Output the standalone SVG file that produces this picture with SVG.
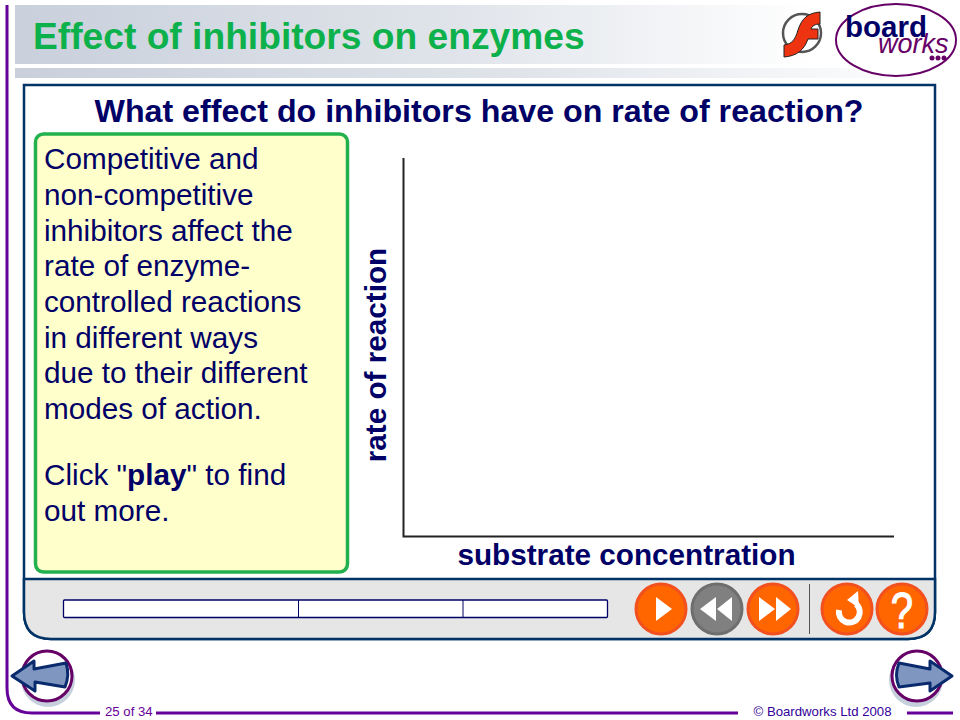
<svg xmlns="http://www.w3.org/2000/svg" width="960" height="720" viewBox="0 0 960 720">
<style>
text{font-family:"Liberation Sans",Arial,sans-serif}
.body{font-size:29.7px;fill:#000066}
.ax{font-size:29.7px;font-weight:bold;fill:#000066}
.foot{font-size:13.2px}
.btn{fill:#ff6600;stroke:#f2501e;stroke-width:3}
.sym{fill:#fff}
.nav{fill:#7f97c0;stroke:#0a2a6e;stroke-width:3;stroke-linejoin:round}
.shadow{fill:#c5d0dc}
.ring{fill:#fff;stroke:#660066;stroke-width:3}
</style>
<defs>
<linearGradient id="hdr" x1="0" x2="1" y1="0" y2="0"><stop offset="0" stop-color="#c9d0dc"/><stop offset="0.55" stop-color="#e0e4ea"/><stop offset="1" stop-color="#ffffff"/></linearGradient>
</defs>
<rect width="960" height="720" fill="#fff"/>
<g id="frame">
<path d="M7 5V688Q7 713 32 713H100M156 713H738M907 713H953" fill="none" stroke="#660099" stroke-width="3"/>
</g>
<g id="header">
<rect x="15" y="5" width="800" height="59" fill="url(#hdr)"/>
<rect x="15" y="68" width="920" height="10" fill="url(#hdr)"/>
<text x="33" y="49" font-size="37.200" font-weight="bold" fill="#0db14b">Effect of inhibitors on enzymes</text>
</g>
<g id="flash-logo">
<circle cx="802" cy="33" r="19" fill="#fff" stroke="#555" stroke-width="2.500"/>
<path d="M784 57V45C792 44 795 40 798 30C802 18 808 13 820 12V24C815 24 812 26 811 29H818V39H808C804 50 797 56 784 57Z" fill="#ee3311" stroke="#222" stroke-width="1"/>
</g>
<g id="boardworks-logo">
<ellipse cx="896" cy="40" rx="60" ry="36" fill="#fff" stroke="#660066" stroke-width="2"/>
<text x="845" y="37" font-size="29.500" font-weight="bold" fill="#000066">board</text>
<text x="878" y="53" font-size="27" font-style="italic" fill="#660066">works</text>
<circle cx="932" cy="58" r="2.500" fill="#660066"/><circle cx="938" cy="58" r="2.500" fill="#660066"/><circle cx="944" cy="58" r="2.500" fill="#660066"/>
</g>
<g id="panel">
<path d="M24 85H935V612Q935 639 908 639H51Q24 639 24 612Z" fill="#fff" stroke="#003366" stroke-width="2.500"/>
<path d="M24 579H935V612Q935 639 908 639H51Q24 639 24 612Z" fill="#e6e6e6" stroke="#003366" stroke-width="2.500"/>
<text x="479" y="122" text-anchor="middle" font-size="32.200" font-weight="bold" fill="#000066">What effect do inhibitors have on rate of reaction?</text>
</g>
<g id="text-box">
<rect x="35.500" y="134" width="312" height="438" rx="8" fill="#ffffcc" stroke="#22b14c" stroke-width="3.500"/>
<text class="body" x="44" y="169">Competitive and</text>
<text class="body" x="44" y="205">non-competitive</text>
<text class="body" x="44" y="241">inhibitors affect the</text>
<text class="body" x="44" y="276">rate of enzyme-</text>
<text class="body" x="44" y="312">controlled reactions</text>
<text class="body" x="44" y="348">in different ways</text>
<text class="body" x="44" y="383">due to their different</text>
<text class="body" x="44" y="419">modes of action.</text>
<text class="body" x="44" y="485">Click "<tspan font-weight="bold">play</tspan>" to find</text>
<text class="body" x="44" y="521">out more.</text>
</g>
<g id="chart">
<path d="M403.500 158V536.500H894" fill="none" stroke="#222" stroke-width="2"/>
<text class="ax" transform="translate(386 355) rotate(-90)" text-anchor="middle">rate of reaction</text>
<text class="ax" x="626.500" y="565" text-anchor="middle">substrate concentration</text>
</g>
<g id="progress-bar">
<rect x="63.500" y="600" width="544" height="17.500" rx="1" fill="#fff" stroke="#000066" stroke-width="1.300"/>
<path d="M298.500 600V617.500M463 600V617.500" stroke="#000066" stroke-width="1"/>
</g>
<g id="btn-play"><circle class="btn" cx="661" cy="609" r="25"/><path class="sym" d="M656 597L672 609L656 621Z"/></g>
<g id="btn-back"><circle cx="717" cy="609" r="25" fill="#808080" stroke="#6e6e6e" stroke-width="3"/><path class="sym" d="M700 609L716 597V621ZM717 609L732 597V621Z"/></g>
<g id="btn-forward"><circle class="btn" cx="773" cy="609" r="25"/><path class="sym" d="M759 597L775 609L759 621ZM776 597L791 609L776 621Z"/></g>
<path d="M809.500 584V634" stroke="#555" stroke-width="1"/>
<g id="btn-replay"><circle class="btn" cx="847" cy="609" r="25"/><path d="M839 610A10.500 10.500 0 1 0 856 604" fill="none" stroke="#fff" stroke-width="6"/><path class="sym" d="M858 591L859 608L847 600Z"/></g>
<g id="btn-help"><circle class="btn" cx="902" cy="609" r="25"/><text transform="translate(902 628) scale(0.8 1)" text-anchor="middle" font-size="50" stroke="#fff" stroke-width="1.200" fill="#fff">?</text></g>
<g id="nav-prev">
<circle class="shadow" cx="48" cy="680" r="27"/>
<circle class="ring" cx="47" cy="676" r="25"/>
<path class="nav" d="M12 676L34 661V669L66 663Q70 675 65 687L35 682V691Z"/>
</g>
<g id="nav-next">
<circle class="shadow" cx="916" cy="680" r="27"/>
<circle class="ring" cx="917" cy="676" r="25"/>
<path class="nav" d="M952 676L930 661V669L899 663Q894 675 899 687L930 683V691Z"/>
</g>
<g id="footer">
<text class="foot" x="105" y="716" fill="#660099">25 of 34</text>
<text class="foot" x="753.500" y="716" fill="#330099">© Boardworks Ltd 2008</text>
</g>
</svg>
